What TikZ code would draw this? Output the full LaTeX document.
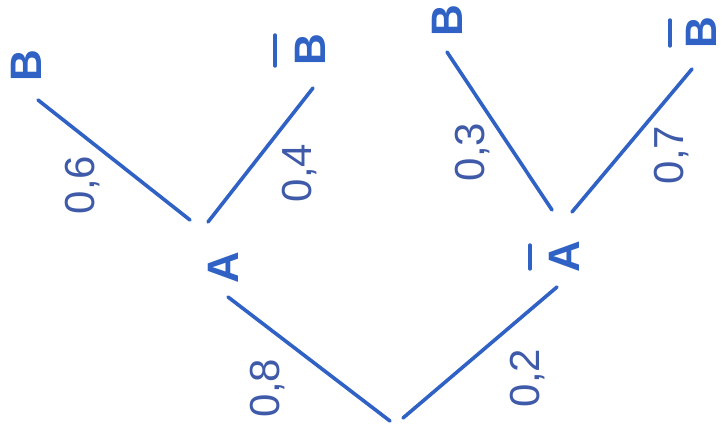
\documentclass[tikz,border=0pt]{standalone}
\usepackage{fontspec}
\setmainfont{Liberation Sans}
\definecolor{pen}{HTML}{2F62C4}
\definecolor{ink}{HTML}{3E5AA8}
\begin{document}
\begin{tikzpicture}[x=1pt,y=-1pt,
  branch/.style={draw=pen,line width=3.6pt,line cap=round},
  negbar/.style={draw=pen,line width=3.4pt,line cap=round},
  event/.style={rotate=90,text=pen,font=\fontsize{44}{44}\selectfont\bfseries,inner sep=0pt},
  prob/.style={rotate=90,text=ink,font=\fontsize{42}{42}\selectfont,inner sep=0pt}]
\useasboundingbox (0,0) rectangle (724,436);
\fill[white] (0,0) rectangle (724,436);
% events
\node[event] (A) at (223,268) {A};
\node[event] (nA) at (564,257) {A};
\node[event] (B1) at (26,66) {B};
\node[event] (nB1) at (310,50) {B};
\node[event] (B2) at (447,21) {B};
\node[event] (nB2) at (701,33) {B};
% negation bars
\coordinate (naBarT) at (530,245);
\coordinate (naBarB) at (530,269);
\coordinate (nb1BarT) at (275,35);
\coordinate (nb1BarB) at (275,66);
\coordinate (nb2BarT) at (670,20);
\coordinate (nb2BarB) at (670,46);
\draw[negbar] (naBarT) -- (naBarB);
\draw[negbar] (nb1BarT) -- (nb1BarB);
\draw[negbar] (nb2BarT) -- (nb2BarB);
% branch endpoints
\coordinate (rootL) at (390,421);
\coordinate (rootR) at (403,418);
\coordinate (aIn) at (228,297);
\coordinate (naIn) at (557,287);
\coordinate (aOutL) at (190,220);
\coordinate (aOutR) at (208,222);
\coordinate (naOutL) at (552,210);
\coordinate (naOutR) at (572,212);
\coordinate (b1In) at (38,100);
\coordinate (nb1In) at (313,88);
\coordinate (b2In) at (447,52);
\coordinate (nb2In) at (692,69);
% branches
\draw[branch] (rootL) -- (aIn);
\draw[branch] (rootR) -- (naIn);
\draw[branch] (aOutL) -- (b1In);
\draw[branch] (aOutR) -- (nb1In);
\draw[branch] (naOutL) -- (b2In);
\draw[branch] (naOutR) -- (nb2In);
% probabilities
\node[prob] (p08) at (268,388) {0,8};
\node[prob] (p02) at (528,378) {0,2};
\node[prob] (p06) at (83,185) {0,6};
\node[prob] (p04) at (300,173) {0,4};
\node[prob] (p03) at (473,152) {0,3};
\node[prob] (p07) at (672,155) {0,7};
\end{tikzpicture}
\end{document}
